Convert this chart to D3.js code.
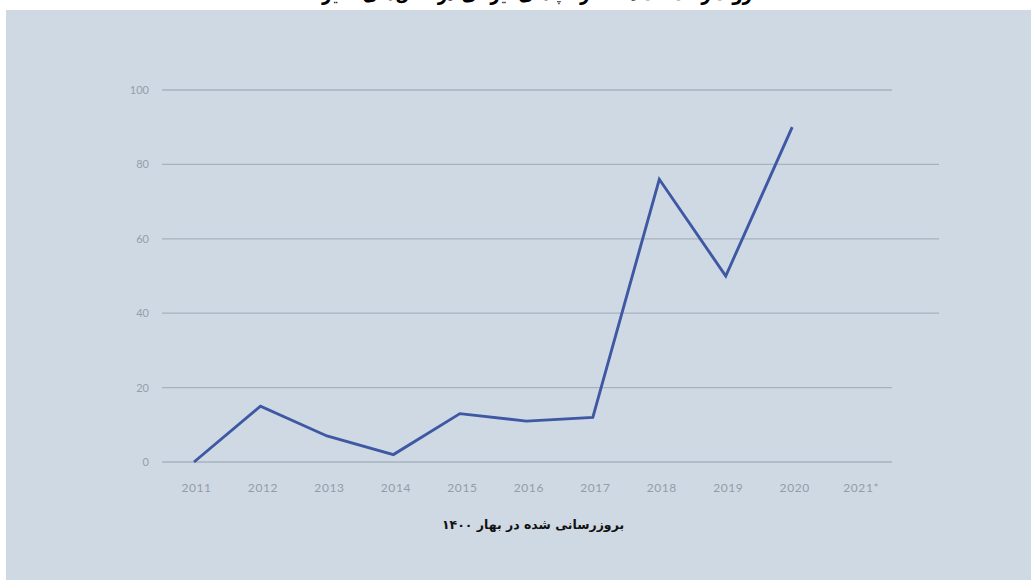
<!DOCTYPE html>
<html><head><meta charset="utf-8">
<script src="https://cdn.jsdelivr.net/npm/d3@7"></script>
<style>body{margin:0;background:#fff;}svg{display:block;}</style>
</head><body>
<svg id="c" width="1031" height="580"></svg>
<script>
const categories = ["2011","2012","2013","2014","2015","2016","2017","2018","2019","2020","2021"];
const tickLabels = ["2011","2012","2013","2014","2015","2016","2017","2018","2019","2020","2021*"];
const values = [0,15,7,2,13,11,12,76,50,90,null];
const yTicks = [0,20,40,60,80,100];
const titleText = "روند رشد تعداد استارتاپ‌های ایرانی در سال‌های اخیر";
const noteText = "بروزرسانی شده در بهار ۱۴۰۰";

const svg = d3.select("#c");
svg.append("rect").attr("x",6).attr("y",10).attr("width",1025).attr("height",570).attr("fill","#cfd9e3");

svg.append("text").attr("x",537).attr("y",0).attr("text-anchor","middle")
  .attr("font-family","'DejaVu Sans', 'Noto Sans', sans-serif").attr("font-weight","bold")
  .attr("font-size",20).attr("fill","#000").attr("direction","rtl")
  .attr("textLength",430).attr("lengthAdjust","spacingAndGlyphs").text(titleText);

const y = d3.scaleLinear().domain([0,100]).range([462,90]);
const x = d3.scalePoint().domain(categories).range([194,858.7]);

const longLines = new Set([40,60,80]);
const g = svg.append("g");
g.selectAll("line.grid").data(yTicks).join("line").attr("class","grid")
  .attr("x1",162).attr("x2",d=>longLines.has(d)?939:892)
  .attr("y1",d=>y(d)).attr("y2",d=>y(d))
  .attr("stroke","#a7b2bf").attr("stroke-width",1.3);

const yAxis = d3.axisLeft(y).tickValues(yTicks).tickSize(0).tickPadding(0);
const ya = svg.append("g").attr("transform","translate(149,0)").call(yAxis);
ya.select(".domain").remove();
ya.selectAll("text").attr("font-family","Lato, 'Open Sans', sans-serif").attr("font-size",11).attr("fill","#959ea9");

const xAxis = d3.axisBottom(x).tickSize(0).tickPadding(0).tickFormat((d,i)=>tickLabels[i]);
const xa = svg.append("g").attr("transform","translate(2,483)").call(xAxis);
xa.select(".domain").remove();
xa.selectAll("text").attr("font-family","Lato, 'Open Sans', sans-serif").attr("font-size",12).attr("fill","#939ca7").attr("letter-spacing","0.6");

const line = d3.line().defined(d=>d.v!=null).x(d=>x(d.c)).y(d=>y(d.v));
svg.append("path").datum(categories.map((c,i)=>({c,v:values[i]})))
  .attr("d",line).attr("fill","none").attr("stroke","#3e58a4").attr("stroke-width",2.9).attr("stroke-linejoin","miter");

svg.append("text").attr("x",533).attr("y",529).attr("text-anchor","middle")
  .attr("font-family","'DejaVu Sans', 'Noto Sans', sans-serif").attr("font-weight","bold")
  .attr("font-size",12.5).attr("fill","#111").attr("direction","rtl").text(noteText);
</script>
</body></html>
